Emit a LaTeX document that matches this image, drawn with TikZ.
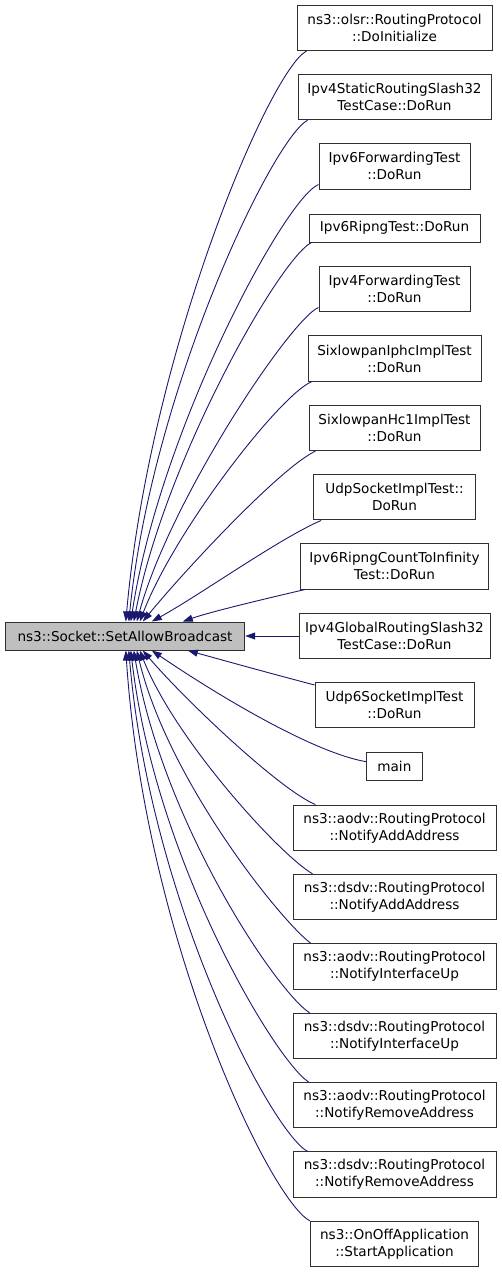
\documentclass[tikz,border=0pt]{standalone}
\usepackage{fontspec}
\setmainfont{DejaVu Sans}
\usetikzlibrary{arrows.meta,calc}
\definecolor{edgeblue}{HTML}{191970}
\definecolor{mainfill}{HTML}{BFBFBF}
\definecolor{boxline}{HTML}{303030}
\begin{document}
\begin{tikzpicture}[x=1pt,y=-1pt,
  box/.style={draw=boxline,line width=1pt,fill=white,inner sep=0pt,align=center,
    font=\fontsize{13.6}{17}\selectfont,minimum height=45.5pt},
  sbox/.style={box,minimum height=28pt},
  edge/.style={draw=edgeblue,line width=0.9pt,-{Triangle[length=10pt,width=7pt]}}]
\useasboundingbox (0,0) rectangle (501,1272);
\node[sbox,fill=mainfill,minimum width=239.4pt] (m) at (125,636) {ns3::Socket::SetAllowBroadcast};
\node[box,minimum width=195pt] (n1) at (394.5,27.8) {ns3::olsr::RoutingProtocol\\::DoInitialize};
\node[box,minimum width=193pt] (n2) at (394.5,97) {Ipv4StaticRoutingSlash32\\TestCase::DoRun};
\node[box,minimum width=151pt] (n3) at (394.5,166.3) {Ipv6ForwardingTest\\::DoRun};
\node[sbox,minimum width=171pt] (n4) at (394.5,228) {Ipv6RipngTest::DoRun};
\node[box,minimum width=151pt] (n5) at (394.5,289.2) {Ipv4ForwardingTest\\::DoRun};
\node[box,minimum width=173pt] (n6) at (394.5,358.5) {SixlowpanIphcImplTest\\::DoRun};
\node[box,minimum width=171pt] (n7) at (394.5,427.8) {SixlowpanHc1ImplTest\\::DoRun};
\node[box,minimum width=161.6pt] (n8) at (394.5,497.2) {UdpSocketImplTest::\\DoRun};
\node[box,minimum width=188.4pt] (n9) at (394.5,566.3) {Ipv6RipngCountToInfinity\\Test::DoRun};
\node[box,minimum width=191pt] (n10) at (394.5,636) {Ipv4GlobalRoutingSlash32\\TestCase::DoRun};
\node[box,minimum width=159pt] (n11) at (394.5,705.2) {Udp6SocketImplTest\\::DoRun};
\node[sbox,minimum width=55.3pt] (n12) at (394.4,766.7) {main};
\node[box,minimum width=203pt] (n13) at (394.5,827.8) {ns3::aodv::RoutingProtocol\\::NotifyAddAddress};
\node[box,minimum width=203pt] (n14) at (394.5,897) {ns3::dsdv::RoutingProtocol\\::NotifyAddAddress};
\node[box,minimum width=203pt] (n15) at (394.5,966.3) {ns3::aodv::RoutingProtocol\\::NotifyInterfaceUp};
\node[box,minimum width=203pt] (n16) at (394.5,1036) {ns3::dsdv::RoutingProtocol\\::NotifyInterfaceUp};
\node[box,minimum width=203pt] (n17) at (394.5,1105.2) {ns3::aodv::RoutingProtocol\\::NotifyRemoveAddress};
\node[box,minimum width=203pt] (n18) at (394.5,1174.7) {ns3::dsdv::RoutingProtocol\\::NotifyRemoveAddress};
\node[box,minimum width=168.4pt] (n19) at (394.5,1244) {ns3::OnOffApplication\\::StartApplication};
% top edges
\draw[edge] ($(n1.south west)+(10,0)$) .. controls (270,70) and (150,350) .. ($(m.north west)+(121,0)$);
\draw[edge] ($(n2.south west)+(10,0)$) .. controls (272,140) and (152,390) .. ($(m.north west)+(124,0)$);
\draw[edge] ($(n3.south west)+(0,-5)$) .. controls (285,198) and (160,430) .. ($(m.north west)+(126,0)$);
\draw[edge] ($(n4.south west)+(3,0)$) .. controls (280,258) and (165,460) .. ($(m.north west)+(129,0)$);
\draw[edge] ($(n5.south west)+(0,-5)$) .. controls (290,320) and (170,500) .. ($(m.north west)+(132,0)$);
\draw[edge] ($(n6.south west)+(4,0)$) .. controls (280,395) and (175,530) .. ($(m.north west)+(135,0)$);
\draw[edge] ($(n7.south west)+(7,0)$) .. controls (280,468) and (185,570) .. ($(m.north west)+(138,0)$);
\draw[edge] ($(n8.south west)+(8,0)$) .. controls (280,538) and (200,595) .. ($(m.north west)+(147,0)$);
\draw[edge] ($(n9.south west)+(5,0)$) .. controls (260,600) and (210,612) .. ($(m.north west)+(178,0)$);
\draw[edge] (n10.west) -- (m.east);
% bottom edges
\draw[edge] ($(n11.north west)+(0,3)$) .. controls (265,672) and (215,658) .. ($(m.south west)+(183,0)$);
\draw[edge] ($(n12.west)+(0,-5)$) .. controls (310,752) and (210,690) .. ($(m.south west)+(147,0)$);
\draw[edge] ($(n13.north west)+(23,0)$) .. controls (280,790) and (185,700) .. ($(m.south west)+(138,0)$);
\draw[edge] ($(n14.north west)+(20,0)$) .. controls (280,855) and (175,740) .. ($(m.south west)+(135,0)$);
\draw[edge] ($(n15.north west)+(18,0)$) .. controls (280,920) and (168,780) .. ($(m.south west)+(132,0)$);
\draw[edge] ($(n16.north west)+(17,0)$) .. controls (275,990) and (162,820) .. ($(m.south west)+(129,0)$);
\draw[edge] ($(n17.north west)+(16,0)$) .. controls (275,1060) and (155,860) .. ($(m.south west)+(126,0)$);
\draw[edge] ($(n18.north west)+(15,0)$) .. controls (270,1130) and (150,900) .. ($(m.south west)+(124,0)$);
\draw[edge] (n19.north west) .. controls (270,1200) and (145,940) .. ($(m.south west)+(121,0)$);
\end{tikzpicture}
\end{document}
